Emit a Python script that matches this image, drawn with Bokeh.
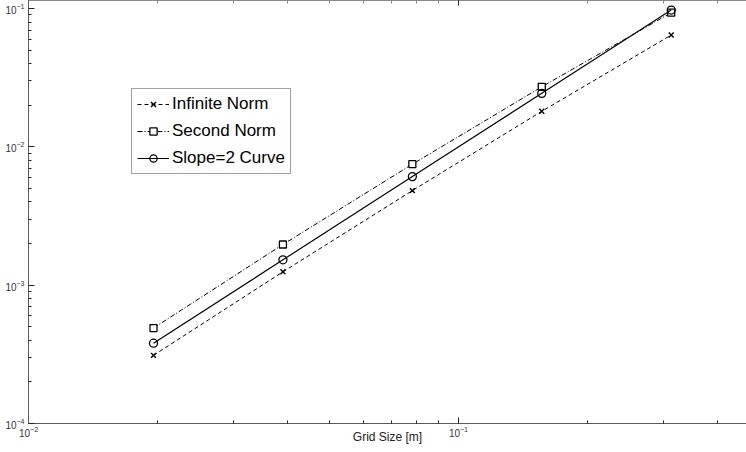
from bokeh.plotting import figure
from bokeh.models import (LogAxis, FixedTicker, LogTickFormatter, CustomJSTickFormatter,
                          Legend, LegendItem)
from bokeh.embed import file_html
from bokeh.resources import INLINE

grid_size = [0.01953125, 0.0390625, 0.078125, 0.15625, 0.3125]
infinite_norm = [3.11e-4, 1.25e-3, 4.83e-3, 1.81e-2, 6.44e-2]
second_norm = [4.9e-4, 1.97e-3, 7.5e-3, 2.72e-2, 9.35e-2]
slope2_curve = [3.81e-4, 1.526e-3, 6.10e-3, 2.44e-2, 9.77e-2]

x_major = [0.01, 0.1]
x_minor = [0.02, 0.03, 0.04, 0.05, 0.06, 0.07, 0.08, 0.09, 0.2, 0.3, 0.4]
y_major = [1e-4, 1e-3, 1e-2, 1e-1]
y_minor = [m * d for d in (1e-4, 1e-3, 1e-2) for m in range(2, 10)]

FONT = "Liberation Sans"
AXC = "#5a5a5a"

p = figure(width=746, height=452, x_axis_type="log", y_axis_type="log",
           x_range=(0.01, 0.4677), y_range=(1e-4, 0.1145),
           output_backend="svg", toolbar_location=None,
           min_border_left=28, min_border_right=0, min_border_top=0, min_border_bottom=29)
p.outline_line_color = None
p.xgrid.visible = False
p.ygrid.visible = False
p.background_fill_color = "white"
p.border_fill_color = "white"

p.xaxis.ticker = FixedTicker(ticks=x_major, minor_ticks=x_minor)
p.yaxis.ticker = FixedTicker(ticks=y_major, minor_ticks=y_minor)
p.xaxis.formatter = LogTickFormatter()
p.yaxis.formatter = LogTickFormatter()

for ax in (p.xaxis[0], p.yaxis[0]):
    ax.axis_line_color = AXC
    ax.major_tick_line_color = "#222222"
    ax.minor_tick_line_color = "#222222"
    ax.major_tick_in = 6
    ax.major_tick_out = 0
    ax.minor_tick_in = 3
    ax.minor_tick_out = 0
    ax.major_label_text_font = FONT
    ax.major_label_text_font_size = "10px"
    ax.major_label_text_color = "#333344"
    ax.major_label_standoff = 2
p.yaxis.major_label_standoff = 4

p.xaxis.axis_label = "Grid Size [m]"
p.xaxis.axis_label_text_font = FONT
p.xaxis.axis_label_text_font_size = "12px"
p.xaxis.axis_label_text_font_style = "normal"
p.xaxis.axis_label_text_color = "#222222"
p.xaxis.axis_label_standoff = -10

top = LogAxis(ticker=FixedTicker(ticks=x_major, minor_ticks=x_minor),
              formatter=CustomJSTickFormatter(code="return ''"),
              axis_line_color="#8a8a8a", major_tick_in=5, major_tick_out=0,
              minor_tick_in=3, minor_tick_out=0, major_label_standoff=0,
              major_label_text_font_size="1px",
              major_tick_line_color="#222222", minor_tick_line_color="#888888")
p.add_layout(top, "above")

r1l = p.line(grid_size, infinite_norm, line_color="black", line_width=1, line_dash="4 3")
r1m = p.scatter(grid_size, infinite_norm, marker="x", size=7, line_color="black", line_width=1.4)
r2l = p.line(grid_size, second_norm, line_color="black", line_width=1, line_dash="5 2 1 2")
r2m = p.scatter(grid_size, second_norm, marker="square", size=7, line_color="black",
                fill_color="white", line_width=1.3)
r3l = p.line(grid_size, slope2_curve, line_color="black", line_width=1.2)
r3m = p.scatter(grid_size, slope2_curve, marker="circle", size=8, line_color="black",
                fill_color=None, line_width=1.3)

legend = Legend(items=[
    LegendItem(label="Infinite Norm", renderers=[r1l, r1m]),
    LegendItem(label="Second Norm", renderers=[r2l, r2m]),
    LegendItem(label="Slope=2 Curve", renderers=[r3l, r3m]),
], location=(103, 249))
legend.border_line_color = "#444444"
legend.border_line_width = 1
legend.background_fill_color = "white"
legend.background_fill_alpha = 1
legend.label_text_font = FONT
legend.label_text_font_size = "17px"
legend.label_text_color = "black"
legend.glyph_width = 32
legend.glyph_height = 18
legend.label_standoff = 3
legend.label_height = 20
legend.spacing = 7
legend.padding = 5
legend.margin = 0
p.add_layout(legend, "center")

open("out.html", "w").write(file_html(p, INLINE))
